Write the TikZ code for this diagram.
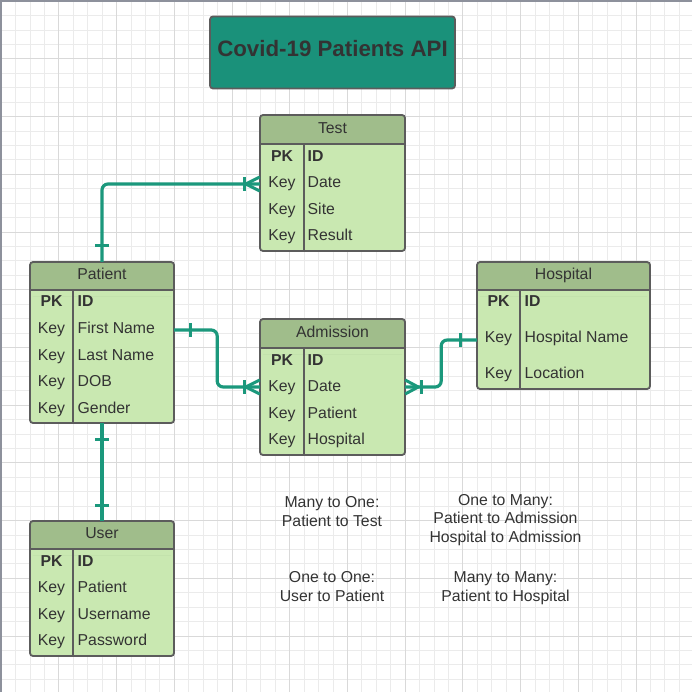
\documentclass[tikz,border=0pt]{standalone}
\usepackage{fontspec}
\setmainfont{Liberation Sans}
\definecolor{ink}{HTML}{333333}
\definecolor{hdrcol}{HTML}{A0BD8B}
\definecolor{bodycol}{HTML}{C9E8B1}
\definecolor{tblcol}{HTML}{5C5C5C}
\definecolor{titlecol}{HTML}{1A917A}
\definecolor{conncol}{HTML}{1B987C}
\definecolor{gridminor}{HTML}{EBEBEB}
\definecolor{gridmajor}{HTML}{D9D9D9}
\definecolor{framecol}{HTML}{8D919C}
\newcommand\ertable[8]{%
  \node[tblnode, minimum width={(#4-#2)*1pt}, minimum height={(#5-#3)*1pt}] (#1) at ({(#2+#4)/2},{(#3+#5)/2}) {};
  \fill[hdrcol, rounded corners=3pt] (#2,#3) rectangle (#4,{#6+6});
  \fill[bodycol] (#2,#6) rectangle (#4,{#6+6});
  \draw[tblline] (#2,#6) -- (#4,#6);
  \draw[tblline] (#7,#6) -- (#7,#5);
  \draw[tblline, rounded corners=3pt] (#2,#3) rectangle (#4,#5);
  \node[hdrtxt] (#1-title) at ({(#2+#4)/2},{#6-10.5}) {#8};
}
\begin{document}
\begin{tikzpicture}[x=1pt,y=-1pt,
  tblnode/.style={fill=bodycol, rounded corners=3pt, inner sep=0pt, draw=none},
  tblline/.style={draw=tblcol, line width=1.8pt},
  hdrtxt/.style={anchor=base, inner sep=0pt, text=ink, font=\fontsize{15.8}{18}\selectfont},
  keytxt/.style={anchor=base, inner sep=0pt, text=ink, font=\fontsize{15.8}{18}\selectfont},
  fldtxt/.style={anchor=base west, inner sep=0pt, text=ink, font=\fontsize{15.8}{18}\selectfont},
  pktxt/.style={font=\fontsize{15.8}{18}\selectfont\bfseries},
  note/.style={anchor=base, inner sep=0pt, text=ink, font=\fontsize{15.8}{18}\selectfont},
  conn/.style={draw=conncol, line width=3.2pt},
  cardmark/.style={draw=conncol, line width=3pt},
  titlebox/.style={fill=titlecol, draw=tblcol, line width=1.8pt, rounded corners=3pt,
    minimum width=245pt, minimum height=72pt, inner sep=0pt, text=ink,
    font=\fontsize{22.3}{26}\selectfont\bfseries, text height=12pt, text depth=4pt}
]
\useasboundingbox (0,0) rectangle (692,692);
\fill[white] (0,0) rectangle (692,692);
% grid
\foreach \i in {0,...,47}{
  \pgfmathsetmacro\g{1.2+14.43*\i}
  \draw[gridminor, line width=1pt] (\g,0) -- (\g,692);
  \draw[gridminor, line width=1pt] (0,\g) -- (692,\g);
}
\foreach \i in {0,...,11}{
  \pgfmathsetmacro\g{1.2+57.72*\i}
  \draw[gridmajor, line width=1pt] (\g,0) -- (\g,692);
  \draw[gridmajor, line width=1pt] (0,\g) -- (692,\g);
}
\draw[framecol, line width=2.5pt] (0,1) -- (692,1);
\draw[framecol, line width=1.5pt] (0.75,0) -- (0.75,692);

% title
\node[titlebox] (title) at (332.5,52.5) {Covid-19 Patients API};

% tables
\ertable{test}{260}{115}{405}{251}{144}{304}{Test}
\node[keytxt, pktxt] (t-k0) at (282,161.7) {PK};
\node[fldtxt, pktxt] (t-f0) at (307.5,161.7) {ID};
\node[keytxt] (t-k1) at (282,188) {Key};
\node[fldtxt] (t-f1) at (307.5,188) {Date};
\node[keytxt] (t-k2) at (282,214.3) {Key};
\node[fldtxt] (t-f2) at (307.5,214.3) {Site};
\node[keytxt] (t-k3) at (282,240.6) {Key};
\node[fldtxt] (t-f3) at (307.5,240.6) {Result};

\ertable{patient}{30}{262}{174}{423}{290}{73}{Patient}
\node[keytxt, pktxt] (p-k0) at (51.5,306.7) {PK};
\node[fldtxt, pktxt] (p-f0) at (77.5,306.7) {ID};
\node[keytxt] (p-k1) at (51.5,333.4) {Key};
\node[fldtxt] (p-f1) at (77.5,333.4) {First Name};
\node[keytxt] (p-k2) at (51.5,360.1) {Key};
\node[fldtxt] (p-f2) at (77.5,360.1) {Last Name};
\node[keytxt] (p-k3) at (51.5,386.8) {Key};
\node[fldtxt] (p-f3) at (77.5,386.8) {DOB};
\node[keytxt] (p-k4) at (51.5,413.5) {Key};
\node[fldtxt] (p-f4) at (77.5,413.5) {Gender};

\ertable{admission}{260}{319}{405}{455}{348}{304}{Admission}
\node[keytxt, pktxt] (a-k0) at (282,365.2) {PK};
\node[fldtxt, pktxt] (a-f0) at (307.5,365.2) {ID};
\node[keytxt] (a-k1) at (282,391.6) {Key};
\node[fldtxt] (a-f1) at (307.5,391.6) {Date};
\node[keytxt] (a-k2) at (282,418) {Key};
\node[fldtxt] (a-f2) at (307.5,418) {Patient};
\node[keytxt] (a-k3) at (282,444.4) {Key};
\node[fldtxt] (a-f3) at (307.5,444.4) {Hospital};

\ertable{hospital}{477}{262}{650}{389}{290}{520}{Hospital}
\node[keytxt, pktxt] (h-k0) at (498.5,306.7) {PK};
\node[fldtxt, pktxt] (h-f0) at (524.5,306.7) {ID};
\node[keytxt] (h-k1) at (498.5,342.7) {Key};
\node[fldtxt] (h-f1) at (524.5,342.7) {Hospital Name};
\node[keytxt] (h-k2) at (498.5,378.5) {Key};
\node[fldtxt] (h-f2) at (524.5,378.5) {Location};

\ertable{user}{30}{521}{174}{656}{549}{73}{User}
\node[keytxt, pktxt] (u-k0) at (51.5,566) {PK};
\node[fldtxt, pktxt] (u-f0) at (77.5,566) {ID};
\node[keytxt] (u-k1) at (51.5,592.6) {Key};
\node[fldtxt] (u-f1) at (77.5,592.6) {Patient};
\node[keytxt] (u-k2) at (51.5,619.2) {Key};
\node[fldtxt] (u-f2) at (77.5,619.2) {Username};
\node[keytxt] (u-k3) at (51.5,645.8) {Key};
\node[fldtxt] (u-f3) at (77.5,645.8) {Password};

% connectors
% Patient -- Test
\draw[conn, rounded corners=6pt] (patient.north) |- ([yshift=-1pt]test.west);
\draw[cardmark] ([yshift=16pt]patient.north) ++(-7,0) -- ++(14,0);
\draw[cardmark] ([yshift=-1pt,xshift=-15pt]test.west) ++(0,-7) -- ++(0,14);
\draw[cardmark] ([yshift=-1pt]test.west) ++(0,-7) -- ++(-14,7) -- ++(14,7);
% Patient -- Admission
\draw[conn, rounded corners=6pt] ([yshift=12.5pt]patient.east) -- ++(43,0) |- (admission.west);
\draw[cardmark] ([yshift=12.5pt,xshift=16pt]patient.east) ++(0,-7) -- ++(0,14);
\draw[cardmark] ([xshift=-15pt]admission.west) ++(0,-7) -- ++(0,14);
\draw[cardmark] (admission.west) ++(0,-7) -- ++(-14,7) -- ++(14,7);
% Admission -- Hospital
\draw[conn, rounded corners=6pt] (admission.east) -- ++(36,0) |- ([yshift=-14.5pt]hospital.west);
\draw[cardmark] (admission.east) ++(0,-7) -- ++(13,7) -- ++(-13,7);
\draw[cardmark] ([xshift=16pt]admission.east) ++(0,-7) -- ++(0,14);
\draw[cardmark] ([yshift=-14.5pt,xshift=-16pt]hospital.west) ++(0,-7) -- ++(0,14);
% Patient -- User
\draw[conn] (patient.south) -- (user.north);
\draw[cardmark] ([yshift=-16pt]patient.south) ++(-7,0) -- ++(14,0);
\draw[cardmark] ([yshift=15pt]user.north) ++(-7,0) -- ++(14,0);

% notes
\node[note] (n1a) at (332,507.7) {Many to One:};
\node[note] (n1b) at (332,526.7) {Patient to Test};
\node[note] (n2a) at (505.5,505) {One to Many:};
\node[note] (n2b) at (505.5,523.5) {Patient to Admission};
\node[note] (n2c) at (505.5,542.3) {Hospital to Admission};
\node[note] (n3a) at (332,582.3) {One to One:};
\node[note] (n3b) at (332,601.7) {User to Patient};
\node[note] (n4a) at (505.5,582.3) {Many to Many:};
\node[note] (n4b) at (505.5,601.7) {Patient to Hospital};
\end{tikzpicture}
\end{document}
